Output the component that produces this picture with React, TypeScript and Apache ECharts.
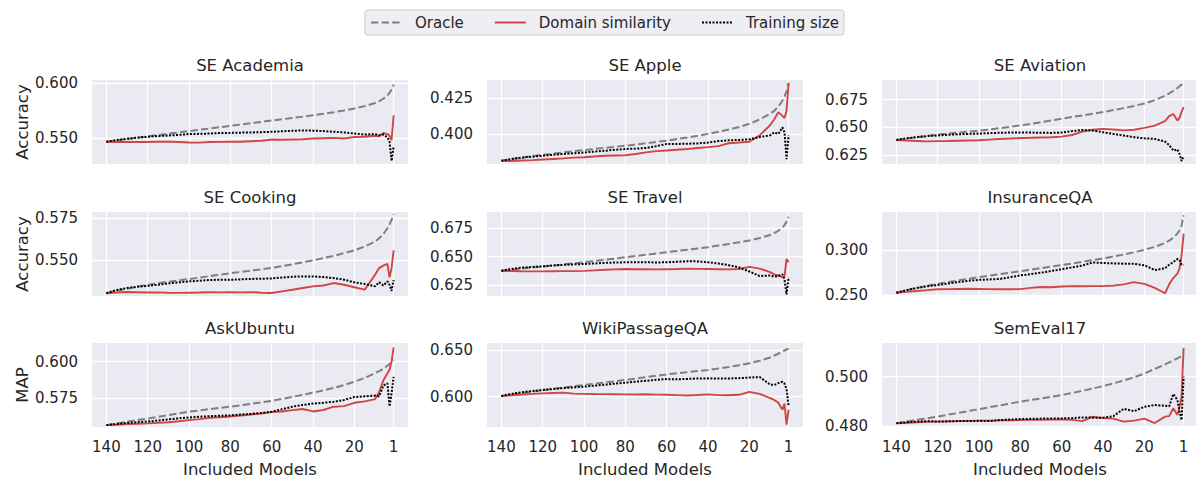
import React, { useEffect, useRef } from "react";
import * as echarts from "echarts";

const X = [140, 135, 130, 125, 120, 115, 110, 105, 100, 95, 90, 85, 80, 75, 70, 65, 60, 55, 50, 45, 40, 35, 30, 25, 20, 15, 10, 8, 6, 4, 3, 2, 1];
const X_TICKS = [140, 120, 100, 80, 60, 40, 20, 1];
const LEGEND = ["Oracle", "Domain similarity", "Training size"];
const TITLES = ["SE Academia", "SE Apple", "SE Aviation", "SE Cooking", "SE Travel", "InsuranceQA", "AskUbuntu", "WikiPassageQA", "SemEval17"];
const ROW_LABELS = ["Accuracy", "Accuracy", "MAP"];

// SE Academia
const academiaOracle = [0.5465, 0.5478, 0.5490, 0.5502, 0.5514, 0.5526, 0.5538, 0.5550, 0.5562, 0.5574, 0.5586, 0.5598, 0.5610, 0.5622, 0.5634, 0.5646, 0.5658, 0.5670, 0.5682, 0.5694, 0.5707, 0.5720, 0.5734, 0.5750, 0.5768, 0.5790, 0.5818, 0.5835, 0.5857, 0.5888, 0.5910, 0.5940, 0.5985];
const academiaDomain = [0.5465, 0.5463, 0.5462, 0.5464, 0.5463, 0.5465, 0.5466, 0.5462, 0.5458, 0.5457, 0.5463, 0.5464, 0.5466, 0.5465, 0.5470, 0.5474, 0.5485, 0.5483, 0.5486, 0.5488, 0.5494, 0.5497, 0.5500, 0.5495, 0.5508, 0.5510, 0.5520, 0.5515, 0.5545, 0.5535, 0.5520, 0.5480, 0.5705];
const academiaSize = [0.5465, 0.5480, 0.5492, 0.5502, 0.5510, 0.5517, 0.5522, 0.5527, 0.5535, 0.5537, 0.5540, 0.5545, 0.5546, 0.5548, 0.5550, 0.5552, 0.5556, 0.5560, 0.5565, 0.5568, 0.5566, 0.5562, 0.5556, 0.5550, 0.5540, 0.5530, 0.5535, 0.5525, 0.5530, 0.5505, 0.5470, 0.5290, 0.5420];

// SE Apple
const appleOracle = [0.3813, 0.3825, 0.3836, 0.3846, 0.3855, 0.3863, 0.3871, 0.3880, 0.3888, 0.3895, 0.3903, 0.3910, 0.3918, 0.3926, 0.3935, 0.3944, 0.3953, 0.3964, 0.3975, 0.3987, 0.4000, 0.4015, 0.4030, 0.4048, 0.4070, 0.4100, 0.4140, 0.4160, 0.4190, 0.4230, 0.4260, 0.4295, 0.4351];
const appleDomain = [0.3813, 0.3812, 0.3815, 0.3818, 0.3822, 0.3826, 0.3830, 0.3835, 0.3838, 0.3843, 0.3848, 0.3850, 0.3852, 0.3860, 0.3872, 0.3880, 0.3885, 0.3890, 0.3895, 0.3902, 0.3908, 0.3915, 0.3935, 0.3940, 0.3945, 0.3990, 0.4060, 0.4100, 0.4150, 0.4125, 0.4110, 0.4160, 0.4355];
const appleSize = [0.3813, 0.3825, 0.3835, 0.3842, 0.3848, 0.3855, 0.3860, 0.3866, 0.3871, 0.3877, 0.3883, 0.3890, 0.3895, 0.3898, 0.3902, 0.3915, 0.3930, 0.3930, 0.3932, 0.3934, 0.3940, 0.3950, 0.3955, 0.3958, 0.3962, 0.3978, 0.3990, 0.4010, 0.4000, 0.4045, 0.4010, 0.3825, 0.3990];

// SE Aviation
const aviationOracle = [0.6385, 0.6398, 0.6410, 0.6422, 0.6433, 0.6443, 0.6452, 0.6460, 0.6468, 0.6480, 0.6492, 0.6504, 0.6516, 0.6531, 0.6546, 0.6561, 0.6577, 0.6592, 0.6607, 0.6622, 0.6637, 0.6655, 0.6673, 0.6693, 0.6714, 0.6745, 0.6785, 0.6805, 0.6830, 0.6855, 0.6870, 0.6885, 0.6897];
const aviationDomain = [0.6385, 0.6380, 0.6376, 0.6372, 0.6375, 0.6376, 0.6378, 0.6380, 0.6382, 0.6388, 0.6394, 0.6398, 0.6403, 0.6405, 0.6408, 0.6410, 0.6415, 0.6430, 0.6460, 0.6478, 0.6485, 0.6480, 0.6472, 0.6478, 0.6495, 0.6515, 0.6555, 0.6600, 0.6620, 0.6560, 0.6585, 0.6640, 0.6683];
const aviationSize = [0.6385, 0.6400, 0.6412, 0.6420, 0.6426, 0.6432, 0.6437, 0.6440, 0.6443, 0.6447, 0.6450, 0.6452, 0.6453, 0.6452, 0.6450, 0.6449, 0.6452, 0.6465, 0.6475, 0.6470, 0.6455, 0.6440, 0.6425, 0.6410, 0.6400, 0.6395, 0.6370, 0.6340, 0.6290, 0.6300, 0.6260, 0.6195, 0.6240];

// SE Cooking
const cookingOracle = [0.5299, 0.5313, 0.5326, 0.5338, 0.5350, 0.5359, 0.5368, 0.5376, 0.5384, 0.5393, 0.5402, 0.5411, 0.5419, 0.5427, 0.5435, 0.5443, 0.5451, 0.5462, 0.5473, 0.5485, 0.5496, 0.5510, 0.5524, 0.5540, 0.5557, 0.5580, 0.5610, 0.5630, 0.5655, 0.5690, 0.5712, 0.5740, 0.5775];
const cookingDomain = [0.5299, 0.5303, 0.5306, 0.5305, 0.5303, 0.5304, 0.5302, 0.5301, 0.5302, 0.5303, 0.5305, 0.5304, 0.5305, 0.5304, 0.5305, 0.5302, 0.5300, 0.5310, 0.5320, 0.5330, 0.5340, 0.5345, 0.5360, 0.5350, 0.5335, 0.5320, 0.5410, 0.5450, 0.5465, 0.5475, 0.5395, 0.5450, 0.5557];
const cookingSize = [0.5299, 0.5318, 0.5330, 0.5338, 0.5343, 0.5350, 0.5358, 0.5364, 0.5370, 0.5374, 0.5378, 0.5380, 0.5380, 0.5382, 0.5385, 0.5386, 0.5388, 0.5393, 0.5398, 0.5400, 0.5400, 0.5396, 0.5390, 0.5380, 0.5364, 0.5354, 0.5340, 0.5365, 0.5345, 0.5370, 0.5350, 0.5313, 0.5378];

// SE Travel
const travelOracle = [0.6376, 0.6386, 0.6395, 0.6404, 0.6412, 0.6422, 0.6431, 0.6441, 0.6450, 0.6461, 0.6472, 0.6483, 0.6494, 0.6505, 0.6516, 0.6527, 0.6538, 0.6549, 0.6560, 0.6571, 0.6582, 0.6596, 0.6610, 0.6625, 0.6641, 0.6662, 0.6688, 0.6705, 0.6725, 0.6755, 0.6775, 0.6805, 0.6847];
const travelDomain = [0.6376, 0.6374, 0.6372, 0.6371, 0.6371, 0.6372, 0.6373, 0.6373, 0.6375, 0.6380, 0.6385, 0.6388, 0.6391, 0.6390, 0.6389, 0.6388, 0.6390, 0.6392, 0.6395, 0.6393, 0.6392, 0.6390, 0.6388, 0.6392, 0.6410, 0.6395, 0.6365, 0.6345, 0.6335, 0.6320, 0.6330, 0.6480, 0.6450];
const travelSize = [0.6376, 0.6392, 0.6403, 0.6410, 0.6415, 0.6422, 0.6428, 0.6432, 0.6435, 0.6440, 0.6445, 0.6448, 0.6450, 0.6451, 0.6450, 0.6449, 0.6450, 0.6455, 0.6459, 0.6458, 0.6450, 0.6440, 0.6425, 0.6405, 0.6370, 0.6330, 0.6335, 0.6325, 0.6330, 0.6345, 0.6300, 0.6170, 0.6320];

// InsuranceQA
const insuranceOracle = [0.2526, 0.2555, 0.2580, 0.2603, 0.2625, 0.2645, 0.2664, 0.2682, 0.2700, 0.2717, 0.2734, 0.2751, 0.2768, 0.2785, 0.2802, 0.2819, 0.2836, 0.2854, 0.2872, 0.2891, 0.2911, 0.2932, 0.2955, 0.2980, 0.3008, 0.3040, 0.3085, 0.3110, 0.3145, 0.3190, 0.3225, 0.3280, 0.3395];
const insuranceDomain = [0.2526, 0.2535, 0.2545, 0.2555, 0.2564, 0.2566, 0.2568, 0.2570, 0.2568, 0.2566, 0.2565, 0.2565, 0.2566, 0.2580, 0.2590, 0.2588, 0.2595, 0.2600, 0.2598, 0.2600, 0.2600, 0.2605, 0.2620, 0.2645, 0.2625, 0.2580, 0.2520, 0.2620, 0.2690, 0.2740, 0.2800, 0.2940, 0.3190];
const insuranceSize = [0.2526, 0.2555, 0.2580, 0.2598, 0.2613, 0.2630, 0.2645, 0.2660, 0.2670, 0.2675, 0.2680, 0.2700, 0.2720, 0.2735, 0.2750, 0.2770, 0.2790, 0.2810, 0.2830, 0.2865, 0.2860, 0.2855, 0.2852, 0.2850, 0.2835, 0.2780, 0.2800, 0.2840, 0.2870, 0.2905, 0.2895, 0.2840, 0.2840];

// AskUbuntu
const ubuntuOracle = [0.5560, 0.5572, 0.5584, 0.5595, 0.5606, 0.5618, 0.5630, 0.5642, 0.5653, 0.5662, 0.5671, 0.5680, 0.5688, 0.5698, 0.5708, 0.5718, 0.5729, 0.5742, 0.5756, 0.5770, 0.5785, 0.5801, 0.5818, 0.5838, 0.5861, 0.5888, 0.5920, 0.5935, 0.5952, 0.5972, 0.5985, 0.5998, 0.6015];
const ubuntuDomain = [0.5560, 0.5563, 0.5567, 0.5570, 0.5572, 0.5576, 0.5580, 0.5587, 0.5595, 0.5602, 0.5610, 0.5615, 0.5620, 0.5627, 0.5634, 0.5640, 0.5650, 0.5655, 0.5664, 0.5672, 0.5655, 0.5665, 0.5688, 0.5692, 0.5715, 0.5725, 0.5740, 0.5790, 0.5870, 0.5920, 0.5945, 0.6000, 0.6100];
const ubuntuSize = [0.5560, 0.5568, 0.5575, 0.5580, 0.5585, 0.5592, 0.5600, 0.5607, 0.5613, 0.5618, 0.5622, 0.5625, 0.5628, 0.5633, 0.5638, 0.5645, 0.5653, 0.5670, 0.5688, 0.5700, 0.5710, 0.5715, 0.5722, 0.5735, 0.5755, 0.5760, 0.5765, 0.5760, 0.5835, 0.5850, 0.5690, 0.5780, 0.5895];

// WikiPassageQA
const wikiOracle = [0.6007, 0.6023, 0.6039, 0.6055, 0.6071, 0.6085, 0.6098, 0.6112, 0.6125, 0.6138, 0.6152, 0.6165, 0.6179, 0.6194, 0.6209, 0.6224, 0.6239, 0.6251, 0.6263, 0.6275, 0.6286, 0.6302, 0.6318, 0.6336, 0.6357, 0.6385, 0.6420, 0.6440, 0.6460, 0.6485, 0.6495, 0.6505, 0.6518];
const wikiDomain = [0.6007, 0.6015, 0.6023, 0.6030, 0.6035, 0.6040, 0.6043, 0.6033, 0.6030, 0.6028, 0.6027, 0.6026, 0.6025, 0.6023, 0.6026, 0.6022, 0.6020, 0.6017, 0.6012, 0.6018, 0.6025, 0.6017, 0.6015, 0.6020, 0.6052, 0.6030, 0.5985, 0.5965, 0.5935, 0.5860, 0.5925, 0.5700, 0.5860];
const wikiSize = [0.6007, 0.6030, 0.6048, 0.6060, 0.6071, 0.6082, 0.6092, 0.6100, 0.6107, 0.6118, 0.6128, 0.6140, 0.6150, 0.6160, 0.6170, 0.6180, 0.6188, 0.6186, 0.6190, 0.6195, 0.6196, 0.6194, 0.6195, 0.6198, 0.6205, 0.6210, 0.6130, 0.6125, 0.6145, 0.6160, 0.6140, 0.6080, 0.5893];

// SemEval17
const semevalOracle = [0.4811, 0.4818, 0.4825, 0.4831, 0.4838, 0.4846, 0.4853, 0.4861, 0.4868, 0.4876, 0.4884, 0.4891, 0.4899, 0.4906, 0.4912, 0.4919, 0.4926, 0.4934, 0.4943, 0.4952, 0.4962, 0.4973, 0.4985, 0.4998, 0.5013, 0.5032, 0.5050, 0.5058, 0.5066, 0.5075, 0.5080, 0.5085, 0.5092];
const semevalDomain = [0.4811, 0.4813, 0.4815, 0.4817, 0.4818, 0.4819, 0.4820, 0.4821, 0.4822, 0.4822, 0.4823, 0.4823, 0.4824, 0.4825, 0.4825, 0.4826, 0.4827, 0.4825, 0.4820, 0.4838, 0.4832, 0.4830, 0.4818, 0.4822, 0.4830, 0.4812, 0.4838, 0.4840, 0.4872, 0.4845, 0.4878, 0.4919, 0.5118];
const semevalSize = [0.4811, 0.4815, 0.4818, 0.4820, 0.4818, 0.4819, 0.4820, 0.4820, 0.4821, 0.4820, 0.4824, 0.4826, 0.4828, 0.4829, 0.4830, 0.4831, 0.4831, 0.4832, 0.4835, 0.4834, 0.4834, 0.4840, 0.4870, 0.4860, 0.4878, 0.4885, 0.4882, 0.4880, 0.4930, 0.4905, 0.4860, 0.4824, 0.5000];

const ORACLE = [academiaOracle, appleOracle, aviationOracle, cookingOracle, travelOracle, insuranceOracle, ubuntuOracle, wikiOracle, semevalOracle];
const DOMAIN = [academiaDomain, appleDomain, aviationDomain, cookingDomain, travelDomain, insuranceDomain, ubuntuDomain, wikiDomain, semevalDomain];
const SIZE = [academiaSize, appleSize, aviationSize, cookingSize, travelSize, insuranceSize, ubuntuSize, wikiSize, semevalSize];

const Y_RANGES = [
  [0.5262, 0.6028],
  [0.3791, 0.4374],
  [0.6168, 0.6927],
  [0.5282, 0.5788],
  [0.6156, 0.6889],
  [0.2489, 0.3432],
  [0.5547, 0.613],
  [0.5675, 0.6575],
  [0.4796, 0.5137],
];
const Y_TICKS = [
  [0.55, 0.6],
  [0.4, 0.425],
  [0.625, 0.65, 0.675],
  [0.55, 0.575],
  [0.625, 0.65, 0.675],
  [0.25, 0.3],
  [0.575, 0.6],
  [0.6, 0.65],
  [0.48, 0.5],
];

const FONT = "DejaVu Sans";
const TEXT = "#262626";
const COL_LEFT = [92, 487, 882];
const ROW_TOP = [80, 212, 343];
const W = 316;
const H = 84;

export default function App() {
  const ref = useRef<HTMLDivElement>(null);
  useEffect(() => {
    document.body.style.margin = "0";
    if (!ref.current) return;
    const chart = echarts.init(ref.current, undefined, { renderer: "svg" });
    const grids: any[] = [];
    const xAxes: any[] = [];
    const yAxes: any[] = [];
    const titles: any[] = [];
    const series: any[] = [];
    for (let i = 0; i < 9; i++) {
      const r = Math.floor(i / 3);
      const c = i % 3;
      grids.push({
        left: COL_LEFT[c],
        top: ROW_TOP[r],
        width: W,
        height: H,
        show: true,
        backgroundColor: "#EAEAF2",
        borderWidth: 0,
        containLabel: false,
        outerBoundsMode: "none",
      });
      xAxes.push({
        type: "value",
        gridIndex: i,
        inverse: true,
        min: -5.95,
        max: 146.95,
        axisLine: { show: false },
        axisTick: { show: false, customValues: X_TICKS },
        axisLabel: {
          show: r === 2,
          customValues: X_TICKS,
          fontFamily: FONT,
          fontSize: 15,
          color: TEXT,
          margin: 12,
          formatter: (v: number) => String(v),
        },
        splitLine: { show: true, lineStyle: { color: "#ffffff", width: 1.3 } },
        name: r === 2 ? "Included Models" : "",
        nameLocation: "middle",
        nameGap: 34,
        nameTextStyle: { fontFamily: FONT, fontSize: 16.5, color: TEXT },
      });
      yAxes.push({
        type: "value",
        gridIndex: i,
        min: Y_RANGES[i][0],
        max: Y_RANGES[i][1],
        axisLine: { show: false },
        axisTick: { show: false, customValues: Y_TICKS[i] },
        axisLabel: {
          customValues: Y_TICKS[i],
          fontFamily: FONT,
          fontSize: 15,
          color: TEXT,
          margin: 14,
          formatter: (v: number) => v.toFixed(3),
        },
        splitLine: { show: true, lineStyle: { color: "#ffffff", width: 1.3 } },
        name: c === 0 ? ROW_LABELS[r] : "",
        nameLocation: "middle",
        nameGap: 60,
        nameTextStyle: { fontFamily: FONT, fontSize: 16.5, color: TEXT },
      });
      titles.push({
        text: TITLES[i],
        left: COL_LEFT[c] + W / 2,
        top: ROW_TOP[r] - 23,
        textAlign: "center",
        padding: 0,
        textStyle: { fontFamily: FONT, fontSize: 16.5, fontWeight: "normal", color: TEXT },
      });
      const mk = (arr: number[]) => X.map((x, k) => [x, arr[k]]);
      series.push({
        name: LEGEND[0],
        type: "line",
        xAxisIndex: i,
        yAxisIndex: i,
        data: mk(ORACLE[i]),
        showSymbol: false,
        symbol: "none",
        lineStyle: { color: "#7f7f7f", width: 2, type: [7.4, 3.2] },
        itemStyle: { color: "#7f7f7f" },
      });
      series.push({
        name: LEGEND[1],
        type: "line",
        xAxisIndex: i,
        yAxisIndex: i,
        data: mk(DOMAIN[i]),
        showSymbol: false,
        symbol: "none",
        lineStyle: { color: "#d24545", width: 1.9 },
        itemStyle: { color: "#d24545" },
      });
      series.push({
        name: LEGEND[2],
        type: "line",
        xAxisIndex: i,
        yAxisIndex: i,
        data: mk(SIZE[i]),
        showSymbol: false,
        symbol: "none",
        lineStyle: { color: "#000000", width: 2, type: [2, 1.5] },
        itemStyle: { color: "#000000" },
      });
    }
    chart.setOption({
      animation: false,
      textStyle: { fontFamily: FONT },
      title: titles,
      legend: {
        data: LEGEND,
        left: 365,
        top: 10,
        padding: [5, 5, 5, 5],
        itemGap: 30,
        itemWidth: 31,
        itemHeight: 14,
        backgroundColor: "#EEEEF4",
        borderColor: "#cccccc",
        borderWidth: 1,
        borderRadius: 3,
        itemStyle: { color: "rgba(0,0,0,0)", borderColor: "rgba(0,0,0,0)", borderWidth: 0, opacity: 0 },
        textStyle: { fontFamily: FONT, fontSize: 15, color: TEXT, padding: [0, 0, 0, 8] },
      },
      grid: grids,
      xAxis: xAxes,
      yAxis: yAxes,
      series,
    });
    return () => chart.dispose();
  }, []);
  return <div ref={ref} style={{ width: 1196, height: 479 }} />;
}
